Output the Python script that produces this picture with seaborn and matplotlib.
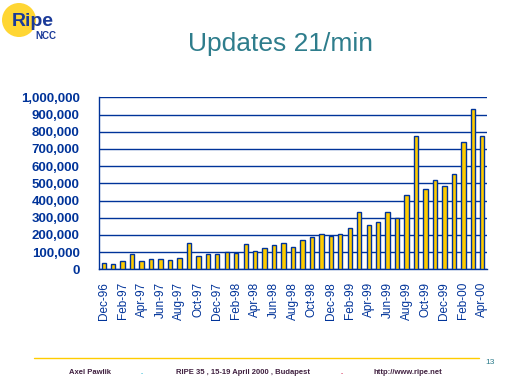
import numpy as np
import pandas as pd
import matplotlib
matplotlib.use("Agg")
import matplotlib.pyplot as plt
from matplotlib.lines import Line2D
from matplotlib.patches import Ellipse
from matplotlib.ticker import FuncFormatter, FixedLocator
import seaborn as sns

# --- data ---
months = ["Dec-96", "Jan-97", "Feb-97", "Mar-97", "Apr-97", "May-97", "Jun-97", "Jul-97",
          "Aug-97", "Sep-97", "Oct-97", "Nov-97", "Dec-97", "Jan-98", "Feb-98", "Mar-98",
          "Apr-98", "May-98", "Jun-98", "Jul-98", "Aug-98", "Sep-98", "Oct-98", "Nov-98",
          "Dec-98", "Jan-99", "Feb-99", "Mar-99", "Apr-99", "May-99", "Jun-99", "Jul-99",
          "Aug-99", "Sep-99", "Oct-99", "Nov-99", "Dec-99", "Jan-00", "Feb-00", "Mar-00",
          "Apr-00"]
updates = [35000, 29000, 46000, 87000, 46000, 58000, 58000, 52000,
           64000, 151000, 76000, 87000, 87000, 99000, 93000, 145000,
           105000, 122000, 140000, 151000, 128000, 169000, 186000, 203000,
           196000, 203000, 238000, 331000, 256000, 273000, 331000, 300000,
           430000, 773000, 465000, 517000, 483000, 552000, 738000, 930000,
           773000]
y_ticks = list(range(0, 1000001, 100000))

BLUE = "#003399"
YELLOW = "#FFCC00"

df = pd.DataFrame({"month": months, "updates": updates})

sns.set_style("white")
plt.rcParams["font.family"] = ["Liberation Sans", "DejaVu Sans"]

fig = plt.figure(figsize=(5.12, 3.84), dpi=100)
ax = fig.add_axes([99 / 512, 1 - 269.3 / 384, 388 / 512, 172 / 384])

sns.barplot(data=df, x="month", y="updates", color=YELLOW, saturation=1,
            edgecolor=BLUE, linewidth=1.0, width=0.46, ax=ax, zorder=3)

ax.set_ylim(0, 1000000)
ax.set_xlim(-0.5, len(months) - 0.5)
ax.set_xlabel("")
ax.set_ylabel("")

# gridlines and axes
ax.yaxis.grid(True, color=BLUE, linewidth=1.0, zorder=1)
ax.set_axisbelow(True)
for s in ["top", "right"]:
    ax.spines[s].set_visible(False)
for s in ["left", "bottom"]:
    ax.spines[s].set_color(BLUE)
    ax.spines[s].set_linewidth(1.0)

ax.set_yticks(y_ticks)
ax.yaxis.set_major_formatter(FuncFormatter(lambda v, p: f"{int(v):,}"))
ax.tick_params(axis="y", length=5, width=1, color=BLUE, labelcolor=BLUE,
               labelsize=9.5, pad=9)
for lab in ax.get_yticklabels():
    lab.set_fontweight("bold")

ax.set_xticks(range(0, len(months), 2))
ax.set_xticklabels(months[::2], rotation=90, color=BLUE, fontsize=8.5)
ax.tick_params(axis="x", which="major", length=0, pad=9)
ax.xaxis.set_minor_locator(FixedLocator(np.arange(-0.5, len(months) - 1, 2)))
ax.tick_params(axis="x", which="minor", length=5, width=1, color=BLUE, direction="out")

# title
fig.text(280 / 512, 1 - 44 / 384, "Updates 21/min", ha="center", va="center",
         fontsize=19, color="#2E7D8C")

# logo
fig.add_artist(Ellipse((19 / 512, 1 - 20 / 384), 34 / 512, 34 / 384,
                       transform=fig.transFigure, facecolor="#FFD633", edgecolor="none"))
fig.text(12 / 512, 1 - 22 / 384, "Ripe", fontsize=14, fontweight="bold",
         color="#1a3a99", va="center", ha="left")
fig.text(35 / 512, 1 - 36 / 384, "NCC", fontsize=7, fontweight="bold",
         color="#1a3a99", va="center", ha="left")

# footer
fig.add_artist(Line2D([34 / 512, 479 / 512], [1 - 358 / 384] * 2,
                      color=YELLOW, linewidth=1.0, transform=fig.transFigure))
fy = 1 - 372 / 384
fig.text(90 / 512, fy, "Axel Pawlik", fontsize=5.5, fontweight="bold",
         color="#402040", ha="center", va="center")
fig.text(142 / 512, fy, ".", fontsize=5.5, fontweight="bold", color="#00aacc",
         ha="center", va="center")
fig.text(243 / 512, fy, "RIPE 35 , 15-19 April 2000 , Budapest", fontsize=5.5,
         fontweight="bold", color="#402040", ha="center", va="center")
fig.text(342 / 512, fy, ".", fontsize=5.5, fontweight="bold", color="#cc0033",
         ha="center", va="center")
fig.text(408 / 512, fy, "http://www.ripe.net", fontsize=5.5, fontweight="bold",
         color="#402040", ha="center", va="center")
fig.text(490 / 512, 1 - 362 / 384, "13", fontsize=6, color="#2E7D8C",
         ha="center", va="center")

fig.savefig("out.png", dpi=100)
